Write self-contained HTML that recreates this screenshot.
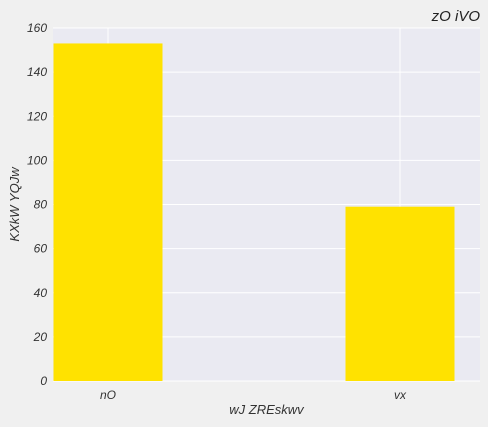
<!DOCTYPE html>
<html><head><meta charset="utf-8"><style>
body{margin:0;background:#f0f0f0;}
svg{display:block;font-family:"Liberation Sans",sans-serif;font-style:italic;}
</style></head><body>
<svg id="c" width="488" height="427">
<rect x="0" y="0" width="488" height="427" fill="#f0f0f0"/>
<g id="plot"></g>
</svg>
<script>
const categories = ["nO", "vx"];
const values = [153, 79];
const yTicks = [0, 20, 40, 60, 80, 100, 120, 140, 160];
const NS = "http://www.w3.org/2000/svg";
const L = 53, R = 480, T = 28, B = 381;
const yMax = 160;
function yS(v){ return B - (v / yMax) * (B - T); }
const x0 = 108, xStep = 292, bw = 109;
function xS(i){ return x0 + i * xStep; }
const g = document.getElementById('plot');
function mk(tag, attrs, text){
  const e = document.createElementNS(NS, tag);
  for (const k in attrs) e.setAttribute(k, attrs[k]);
  if (text !== undefined) e.textContent = text;
  g.appendChild(e);
  return e;
}
let e = mk('rect', {x:L, y:T, width:R-L, height:B-T, fill:'#eaeaf2'});


yTicks.forEach(t => {
  const l = mk('line', {x1:L, x2:R, y1:yS(t), y2:yS(t), stroke:'#fff', 'stroke-width':1});
  
  
  const tx = mk('text', {x:L-6, y:yS(t)+4, 'text-anchor':'end', 'font-size':12, fill:'#333'}, t);
  
  
});
categories.forEach((c, i) => {
  const l = mk('line', {x1:xS(i), x2:xS(i), y1:T, y2:B, stroke:'#fff', 'stroke-width':1});
  
  
});
categories.forEach((c, i) => {
  const r = mk('rect', {x:xS(i)-bw/2, y:yS(values[i]), width:bw, height:B-yS(values[i]), fill:'#ffe200'});
  
  
  const tx = mk('text', {x:xS(i), y:B+18, 'text-anchor':'middle', 'font-size':12, fill:'#333'}, c);
  
  
});
e = mk('text', {x:(L+R)/2, y:414, 'text-anchor':'middle', 'font-size':13, fill:'#333'}, 'wJ ZREskwv');


e = mk('text', {x:19, y:(T+B)/2, 'text-anchor':'middle', 'font-size':13, fill:'#333', transform:'rotate(-90 19 '+((T+B)/2)+')'}, 'KXkW YQJw');


e = mk('text', {x:R, y:21, 'text-anchor':'end', 'font-size':15, fill:'#222'}, 'zO iVO');


</script>
</body></html>
